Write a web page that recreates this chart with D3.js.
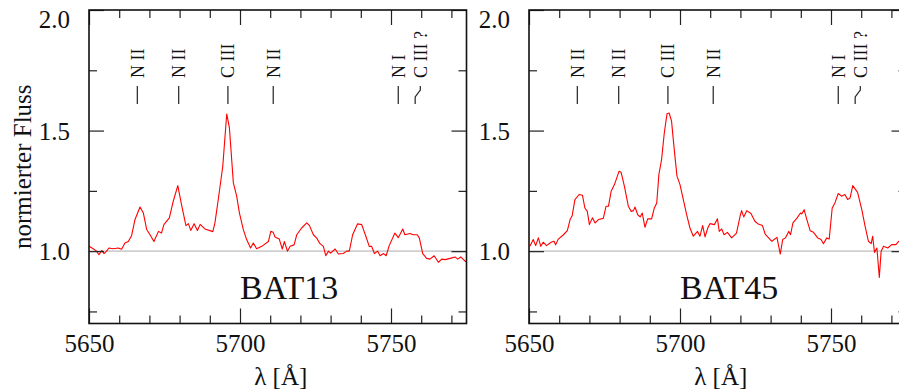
<!DOCTYPE html>
<html>
<head>
<meta charset="utf-8">
<script src="https://cdn.jsdelivr.net/npm/d3@7"></script>
<style>
  body { margin: 0; background: #fff; }
</style>
</head>
<body>
<script>
var svgwidth = 899, svgheight = 391;

// spectra: [lambda in Angstrom, normalised flux]
var bat13 = [
  [5650,1.02],[5651.4,1.01],[5652.5,1.0],[5653.3,0.985],[5654.2,1.003],[5655,0.99],[5655.8,1.0],
  [5656.6,1.013],[5658,1.01],[5659.7,1.013],[5660.8,1.008],[5661.9,1.034],[5663,1.04],[5664.1,1.064],
  [5665.2,1.13],[5666.9,1.183],[5668,1.158],[5669.1,1.09],[5670.2,1.068],[5671.5,1.04],[5673,1.082],
  [5674,1.075],[5674.8,1.11],[5676.6,1.138],[5677.9,1.207],[5679.4,1.272],[5680.7,1.189],[5682.1,1.106],
  [5682.9,1.114],[5683.7,1.086],[5684.8,1.114],[5685.9,1.086],[5686.8,1.111],[5688.4,1.092],[5691,1.081],
  [5691.7,1.117],[5692.8,1.214],[5694.3,1.352],[5695.6,1.569],[5696.5,1.511],[5697.8,1.283],[5698.9,1.228],
  [5699.8,1.159],[5701.1,1.089],[5702.2,1.048],[5703.5,1.013],[5704.4,1.034],[5705.5,1.01],[5707.2,1.02],
  [5709.4,1.04],[5710.2,1.082],[5711,1.078],[5711.6,1.059],[5713,1.05],[5714,1.009],[5714.7,1.04],
  [5715.7,1.0],[5716.6,1.02],[5717.9,1.026],[5718.8,1.068],[5720.4,1.096],[5722.1,1.117],[5723,1.106],
  [5724.3,1.068],[5725.4,1.054],[5726.5,1.031],[5727.6,1.02],[5728.4,0.981],[5729.3,1.0],[5730,0.992],
  [5731.5,1.009],[5732.6,0.988],[5734.2,0.99],[5735.3,1.0],[5736.2,1.0],[5737.3,1.068],[5738.9,1.113],
  [5740.3,1.11],[5741.7,1.061],[5742.8,1.02],[5743.6,1.02],[5744.5,0.99],[5745.6,1.0],[5746.4,0.981],
  [5747.5,0.99],[5748.4,0.981],[5749.4,1.023],[5751.3,1.075],[5752.4,1.056],[5753.9,1.092],[5754.6,1.068],
  [5756.3,1.073],[5757.4,1.068],[5758.7,1.068],[5759.4,1.054],[5760.5,0.99],[5761.8,0.97],[5762.9,0.967],
  [5764.3,0.981],[5765.7,0.954],[5766.8,0.967],[5767.9,0.965],[5769.6,0.97],[5771.2,0.976],[5772.1,0.967],
  [5773.1,0.976],[5774,0.965],[5774.8,0.956]
];

var bat45 = [
  [5650.3,1.02],[5651.4,1.048],[5652.2,1.023],[5653.1,1.055],[5653.9,1.02],[5654.7,1.037],[5655.8,1.023],
  [5657.3,1.037],[5658.3,1.041],[5658.8,1.026],[5659.7,1.05],[5661.4,1.068],[5662.7,1.085],[5663.6,1.131],
  [5664.3,1.147],[5665.2,1.214],[5666.6,1.235],[5667.7,1.232],[5668.5,1.179],[5669.3,1.165],[5670,1.11],
  [5671,1.138],[5671.9,1.117],[5673,1.131],[5674.6,1.136],[5675.5,1.186],[5676.3,1.186],[5677.2,1.248],
  [5678.3,1.276],[5679.8,1.331],[5680.5,1.327],[5681.6,1.269],[5682.9,1.186],[5683.8,1.165],[5684.6,1.168],
  [5685.1,1.183],[5686,1.151],[5686.8,1.142],[5687.5,1.158],[5688.4,1.099],[5689.3,1.134],[5690.6,1.134],
  [5691.5,1.179],[5692.3,1.2],[5693,1.317],[5693.9,1.38],[5694.8,1.49],[5695.7,1.57],[5696.4,1.573],
  [5697.2,1.539],[5698.1,1.421],[5699,1.311],[5700,1.276],[5701.1,1.214],[5702.2,1.151],[5703.3,1.096],
  [5704.4,1.062],[5705.8,1.082],[5706.6,1.062],[5707.5,1.106],[5708.3,1.059],[5709.2,1.096],[5709.9,1.114],
  [5711.4,1.11],[5712.4,1.134],[5713,1.082],[5713.8,1.092],[5714.6,1.068],[5715.7,1.078],[5717.1,1.055],
  [5718.7,1.075],[5719.9,1.145],[5720.4,1.168],[5721.1,1.142],[5722.1,1.168],[5723.5,1.156],[5724.8,1.124],
  [5725.7,1.114],[5727.3,1.106],[5728.2,1.071],[5730.4,1.041],[5732.1,1.057],[5733.2,0.988],[5734,1.048],
  [5734.9,1.055],[5736,1.082],[5736.6,1.068],[5737.4,1.117],[5738.8,1.138],[5739.9,1.158],[5740.3,1.154],
  [5741.1,1.172],[5742,1.131],[5743.1,1.085],[5744.2,1.078],[5745.6,1.055],[5746.7,1.048],[5747.5,1.031],
  [5748.6,1.055],[5749.4,1.05],[5750.4,1.179],[5751.3,1.2],[5752.4,1.239],[5753.5,1.228],[5754.6,1.235],
  [5755.5,1.214],[5756.3,1.22],[5757.2,1.272],[5758.8,1.244],[5760.2,1.172],[5761.3,1.103],[5762.4,1.041],
  [5763.3,1.031],[5763.8,1.062],[5764.4,0.995],[5765.2,1.013],[5766,0.891],[5766.6,1.0],[5767.4,1.02],
  [5768.8,1.013],[5770.1,1.027],[5771.5,1.027],[5772.4,1.041],[5773.5,1.03]
];

var panelNames = ["BAT13", "BAT45"];
var panelData = [bat13, bat45];

var xMajor = [5650, 5700, 5750];
var xMinor = [5660, 5670, 5680, 5690, 5710, 5720, 5730, 5740, 5760, 5770];
var yMajor = [1.0, 1.5, 2.0];
var yMinor = [0.75, 1.25, 1.75];

// identified lines: marker position, label position, label text
var lineLam   = [5666, 5679.7, 5696, 5711, 5752.4, 5758];
var labelLam  = [5666, 5679.7, 5696, 5711, 5752.4, 5759.7];
var lineNames = ["N II", "N II", "C III", "N II", "N I", "C III ?"];

var xDomain = [5650, 5775], yDomain = [0.7, 2.0];
var panelLeft = [89, 529];
var panelW = 377.5, plotTop = 10, plotBottom = 323.5;
var majorLen = 15, minorLen = 8;
var serif = "'Liberation Serif', 'Times New Roman', serif";

var svg = d3.select("body").append("svg")
    .attr("width", svgwidth)
    .attr("height", svgheight);

var y = d3.scaleLinear().domain(yDomain).range([plotBottom, plotTop]);

panelNames.forEach(function (name, i) {
  var x = d3.scaleLinear().domain(xDomain).range([0, panelW]);
  var g = svg.append("g").attr("transform", "translate(" + panelLeft[i] + ",0)");

  // reference line at flux 1
  g.append("line")
      .attr("x1", 0).attr("x2", panelW)
      .attr("y1", y(1)).attr("y2", y(1))
      .attr("stroke", "#cfcfcf").attr("stroke-width", 1.6);

  // spectrum
  g.append("path")
      .datum(panelData[i])
      .attr("fill", "none")
      .attr("stroke", "#ff0000")
      .attr("stroke-width", 1.1)
      .attr("stroke-linejoin", "round")
      .attr("d", d3.line()
          .x(function (d) { return x(d[0]); })
          .y(function (d) { return y(d[1]); }));

  // ticks, all pointing inward
  function ticks(axis, vals, len, labels, transform) {
    var a = g.append("g").attr("transform", transform)
        .call(axis.tickValues(vals).tickSize(-len)
          .tickFormat(labels ? d3.format(".0f") : ""));
    a.select(".domain").remove();
    a.selectAll(".tick line").attr("stroke", "#222").attr("stroke-width", 1.2);
    return a;
  }
  var bx = ticks(d3.axisBottom(x), xMajor, majorLen, true, "translate(0," + plotBottom + ")");
  bx.selectAll("text").attr("y", 11).style("font-size", "25px");
  ticks(d3.axisBottom(x), xMinor, minorLen, false, "translate(0," + plotBottom + ")");
  ticks(d3.axisTop(x), xMajor, majorLen, false, "translate(0," + plotTop + ")");
  ticks(d3.axisTop(x), xMinor, minorLen, false, "translate(0," + plotTop + ")");

  var ly = ticks(d3.axisLeft(y), yMajor, majorLen, true, "translate(0,0)");
  ly.selectAll("text")
      .text(function (d) { return d3.format(".1f")(d); })
      .attr("x", -19).style("font-size", "25px")
      .attr("dy", function (d) { return (Math.max(y(d), plotTop + 9) - y(d) + 8.5) + "px"; });
  ticks(d3.axisLeft(y), yMinor, minorLen, false, "translate(0,0)");
  ticks(d3.axisRight(y), yMajor, majorLen, false, "translate(" + panelW + ",0)");
  ticks(d3.axisRight(y), yMinor, minorLen, false, "translate(" + panelW + ",0)");

  // frame
  g.append("rect")
      .attr("x", 0).attr("y", plotTop)
      .attr("width", panelW).attr("height", plotBottom - plotTop)
      .attr("fill", "none").attr("stroke", "#111").attr("stroke-width", 1.6);

  // line identifications
  lineLam.forEach(function (lam, k) {
    var x0 = x(lam), x1 = x(labelLam[k]);
    var p = x0 === x1
      ? "M" + x0 + ",104V86"
      : "M" + x0 + ",104V97L" + x1 + ",90V86";
    g.append("path").attr("d", p)
        .attr("fill", "none").attr("stroke", "#222").attr("stroke-width", 1.2);
    g.append("text")
        .attr("transform", "translate(" + x1 + ",78) rotate(-90)")
        .attr("dy", "0.36em")
        .style("font-size", "18px")
        .text(lineNames[k]);
  });

  // object name
  g.append("text")
      .attr("x", x(5700)).attr("y", y(0.8))
      .style("font-size", "34px")
      .text(name);

  // x title
  g.append("text")
      .attr("x", panelW / 2 + 3).attr("y", 385)
      .attr("text-anchor", "middle")
      .style("font-size", "25px")
      .text("λ [Å]");
});

// y title
svg.append("text")
    .attr("transform", "translate(31," + ((plotTop + plotBottom) / 2) + ") rotate(-90)")
    .attr("text-anchor", "middle")
    .style("font-size", "25px")
    .text("normierter Fluss");

svg.selectAll("text")
    .style("font-family", serif)
    .style("fill", "#111");
</script>
</body>
</html>
